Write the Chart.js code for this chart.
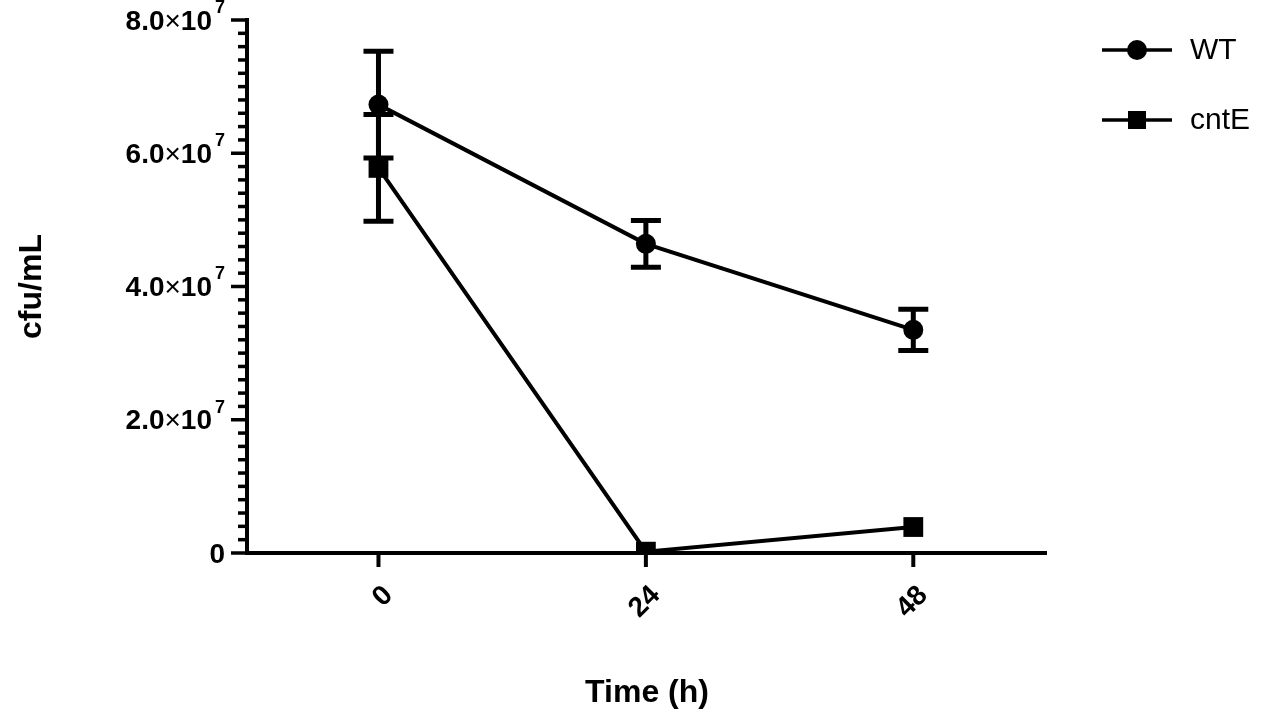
<!DOCTYPE html>
<html><head><meta charset="utf-8">
<script src="https://cdn.jsdelivr.net/npm/chart.js@4"></script>
<style>html,body{margin:0;background:#fff}#w{width:1280px;height:725px}</style>
</head><body><div id="w"><canvas id="c"></canvas></div>
<script>
const timesH = [0, 24, 48];
const wtMean = [6.73e7, 4.64e7, 3.35e7];
const wtErr = [0.8e7, 0.35e7, 0.31e7];
const cntEMean = [5.78e7, 0.02e7, 0.39e7];
const cntEErr = [0.8e7, 0, 0];
const yTickMantissa = ['0', '2.0', '4.0', '6.0', '8.0'];
const FONT = '"Liberation Sans", Arial, sans-serif';

const custom = {
  id: 'custom',
  afterDatasetsDraw(chart) {
    const ctx = chart.ctx, x = chart.scales.x, y = chart.scales.y, ca = chart.chartArea;
    ctx.save();
    ctx.strokeStyle = '#000'; ctx.fillStyle = '#000';
    ctx.lineWidth = 5;
    [[wtMean, wtErr], [cntEMean, cntEErr]].forEach(([m, e]) => {
      m.forEach((v, i) => {
        if (!e[i]) return;
        const px = x.getPixelForValue(timesH[i]);
        const t = y.getPixelForValue(v + e[i]), b = y.getPixelForValue(v - e[i]);
        ctx.beginPath();
        ctx.moveTo(px, t); ctx.lineTo(px, b);
        ctx.moveTo(px - 15, t); ctx.lineTo(px + 15, t);
        ctx.moveTo(px - 15, b); ctx.lineTo(px + 15, b);
        ctx.stroke();
      });
    });
    ctx.lineWidth = 4;
    ctx.beginPath();
    ctx.moveTo(ca.left, ca.top - 2); ctx.lineTo(ca.left, ca.bottom + 2);
    ctx.moveTo(ca.left - 2, ca.bottom); ctx.lineTo(ca.right, ca.bottom);
    ctx.stroke();
    ctx.lineWidth = 3.5;
    for (let k = 0; k <= 40; k++) {
      const py = y.getPixelForValue(k * 2e6);
      const len = k % 10 === 0 ? 16 : 9;
      ctx.beginPath(); ctx.moveTo(ca.left, py); ctx.lineTo(ca.left - len, py); ctx.stroke();
    }
    ctx.lineWidth = 4;
    timesH.forEach(t => {
      const px = x.getPixelForValue(t);
      ctx.beginPath(); ctx.moveTo(px, ca.bottom); ctx.lineTo(px, ca.bottom + 14); ctx.stroke();
    });
    ctx.textBaseline = 'middle';
    yTickMantissa.forEach((m, i) => {
      const py = y.getPixelForValue(i * 2e7);
      const right = ca.left - 22;
      if (m === '0') {
        ctx.font = 'bold 28px ' + FONT; ctx.textAlign = 'right';
        ctx.fillText('0', right, py + 2);
        return;
      }
      ctx.textAlign = 'left';
      ctx.font = 'bold 28px ' + FONT;
      const w1 = ctx.measureText(m).width;
      ctx.font = '28px ' + FONT;
      const w2 = ctx.measureText('×').width;
      ctx.font = 'bold 28px ' + FONT;
      const w3 = ctx.measureText('10').width;
      ctx.font = 'bold 18px ' + FONT;
      const w4 = ctx.measureText('7').width;
      let sx = right - (w1 + w2 + w3 + w4 + 3);
      ctx.font = 'bold 28px ' + FONT; ctx.fillText(m, sx, py + 2); sx += w1;
      ctx.font = '28px ' + FONT; ctx.fillText('×', sx, py + 2); sx += w2;
      ctx.font = 'bold 28px ' + FONT; ctx.fillText('10', sx, py + 2); sx += w3 + 3;
      ctx.font = 'bold 18px ' + FONT; ctx.fillText('7', sx, py - 12);
    });
    ctx.font = 'bold 28px ' + FONT;
    timesH.forEach(t => {
      const px = x.getPixelForValue(t);
      ctx.save();
      ctx.translate(px + 10, ca.bottom + 38);
      ctx.rotate(-Math.PI / 4);
      ctx.textAlign = 'right'; ctx.textBaseline = 'middle';
      ctx.fillText(String(t), 0, 0);
      ctx.restore();
    });
    ctx.textAlign = 'center'; ctx.textBaseline = 'middle';
    ctx.font = 'bold 32px ' + FONT;
    ctx.fillText('Time (h)', (ca.left + ca.right) / 2, 693);
    ctx.save(); ctx.translate(32, (ca.top + ca.bottom) / 2); ctx.rotate(-Math.PI / 2);
    ctx.fillText('cfu/mL', 0, 0); ctx.restore();
    ctx.lineWidth = 3.5;
    [['WT', 'circle', 50], ['cntE', 'rect', 120]].forEach(([lab, sh, ly]) => {
      ctx.beginPath(); ctx.moveTo(1102, ly); ctx.lineTo(1172, ly); ctx.stroke();
      ctx.beginPath();
      if (sh === 'circle') ctx.arc(1137, ly, 10, 0, Math.PI * 2);
      else ctx.rect(1128, ly - 9, 18, 18);
      ctx.fill();
      ctx.font = '30px ' + FONT; ctx.textAlign = 'left';
      ctx.fillText(lab, 1190, ly + 1);
    });
    ctx.restore();
  }
};

new Chart(document.getElementById('c'), {
  type: 'line',
  data: {
    datasets: [
      { label: 'WT', data: timesH.map((t, i) => ({ x: t, y: wtMean[i] })), borderColor: '#000', backgroundColor: '#000', borderWidth: 4, pointStyle: 'circle', pointRadius: 10, pointBorderWidth: 0, tension: 0 },
      { label: 'cntE', data: timesH.map((t, i) => ({ x: t, y: cntEMean[i] })), borderColor: '#000', backgroundColor: '#000', borderWidth: 4, pointStyle: 'rect', pointRadius: 14, pointBorderWidth: 0, tension: 0 }
    ]
  },
  options: {
    responsive: true, maintainAspectRatio: false, animation: false,
    layout: { padding: { top: 20, right: 233, left: 0, bottom: 0 } },
    plugins: { legend: { display: false }, tooltip: { enabled: false } },
    scales: {
      x: { type: 'linear', min: -11.8, max: 60, grid: { display: false }, border: { display: false }, ticks: { display: false },
           afterFit(s) { s.height = 172; } },
      y: { min: 0, max: 8e7, grid: { display: false }, border: { display: false }, ticks: { display: false },
           afterFit(s) { s.width = 247; } }
    }
  },
  plugins: [custom]
});
</script></body></html>
